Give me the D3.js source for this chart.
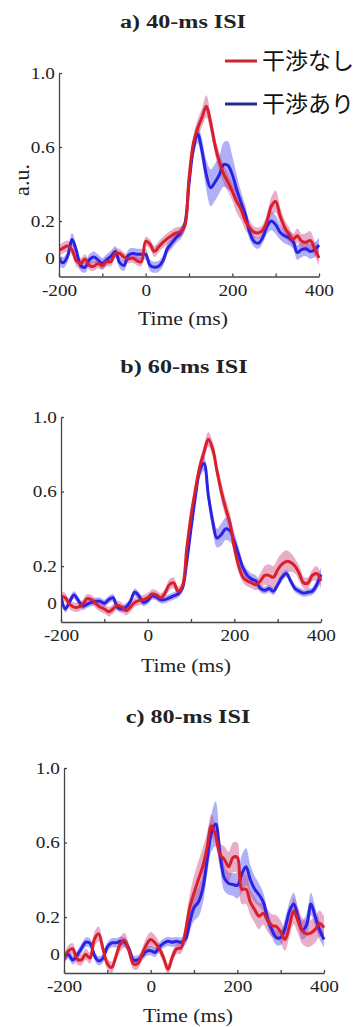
<!DOCTYPE html>
<html>
<head>
<meta charset="utf-8">
<script src="https://cdn.jsdelivr.net/npm/d3@7"></script>
<style>
  body { margin: 0; background: #fff; }
  svg { display: block; }
  .serif { font-family: "Liberation Serif", Tinos, "Times New Roman", Times, "Nimbus Roman", serif; fill: #222; }
  .cjk { font-family: "Noto Sans CJK JP", "Noto Sans CJK SC", sans-serif; fill: #111; }
</style>
</head>
<body>
<svg id="chart" width="355" height="1027"></svg>
<script>
// time axis (ms), one sample every 10 ms
const times = [-200,-190,-180,-170,-160,-150,-140,-130,-120,-110,
  -100,-90,-80,-70,-60,-50,-40,-30,-20,-10,
  0,10,20,30,40,50,60,70,80,90,
  100,110,120,130,140,150,160,170,180,190,
  200,210,220,230,240,250,260,270,280,290,
  300,310,320,330,340,350,360,370,380,390,400];

const seriesNames = ["干渉なし", "干渉あり"];
const titles = ["a) 40-ms ISI", "b) 60-ms ISI", "c) 80-ms ISI"];
const xTicks = [-200, -100, 0, 100, 200, 300, 400];
const xTickLabels = [-200, 0, 200, 400];
const yTicks = [0, 0.2, 0.6, 1.0];

// a) 40-ms ISI
const redA = [0.04,0.055,0.065,0.045,-0.015,-0.03,-0.005,-0.04,-0.045,-0.03,
  -0.04,-0.02,-0.02,0.025,0.025,0.005,-0.005,0.0,-0.015,-0.02,
  0.09,0.075,0.035,0.06,0.085,0.105,0.122,0.135,0.14,0.17,
  0.43,0.62,0.70,0.76,0.82,0.73,0.61,0.52,0.455,0.41,
  0.36,0.305,0.265,0.2,0.165,0.14,0.135,0.15,0.2,0.28,
  0.305,0.23,0.17,0.13,0.1,0.12,0.09,0.085,0.095,0.05,0.0];
const redAErr = [0.03,0.03,0.03,0.03,0.03,0.03,0.025,0.025,0.025,0.025,
  0.025,0.025,0.025,0.025,0.025,0.025,0.025,0.025,0.025,0.025,
  0.025,0.025,0.03,0.03,0.03,0.03,0.03,0.03,0.03,0.03,
  0.03,0.04,0.05,0.05,0.06,0.05,0.05,0.05,0.05,0.05,
  0.05,0.06,0.06,0.05,0.04,0.03,0.03,0.03,0.04,0.05,
  0.06,0.05,0.04,0.04,0.03,0.04,0.04,0.05,0.05,0.04,0.04];
const blueA = [-0.01,-0.025,0.01,0.1,0.04,-0.04,-0.05,-0.01,0.005,-0.01,
  -0.03,-0.01,0.01,0.035,-0.025,-0.04,0.015,0.025,0.02,0.02,
  0.02,-0.04,-0.05,-0.045,-0.015,0.05,0.08,0.11,0.133,0.18,
  0.40,0.59,0.67,0.58,0.45,0.38,0.41,0.45,0.505,0.50,
  0.45,0.37,0.30,0.235,0.14,0.09,0.08,0.11,0.17,0.2,
  0.18,0.14,0.12,0.11,0.09,0.03,0.045,0.05,0.035,0.045,0.07];
const blueAErr = [0.03,0.03,0.03,0.035,0.03,0.03,0.03,0.03,0.03,0.03,
  0.03,0.03,0.03,0.03,0.03,0.03,0.03,0.03,0.03,0.03,
  0.03,0.03,0.03,0.03,0.03,0.03,0.03,0.03,0.03,0.03,
  0.04,0.05,0.05,0.06,0.08,0.1,0.1,0.1,0.12,0.13,
  0.1,0.08,0.06,0.05,0.04,0.03,0.03,0.03,0.04,0.05,
  0.05,0.04,0.04,0.04,0.04,0.04,0.04,0.04,0.04,0.04,0.04];

// b) 60-ms ISI
const redB = [0.04,0.03,-0.005,-0.02,-0.02,-0.005,0.025,0.02,0.0,-0.02,
  -0.03,-0.045,-0.03,-0.01,-0.02,-0.04,-0.02,0.005,0.015,0.02,
  0.03,0.05,0.045,0.03,0.055,0.1,0.11,0.065,0.09,0.29,
  0.47,0.61,0.73,0.81,0.88,0.83,0.71,0.6,0.51,0.43,
  0.3,0.2,0.14,0.12,0.11,0.1,0.12,0.15,0.15,0.14,
  0.18,0.21,0.225,0.22,0.2,0.16,0.11,0.11,0.15,0.16,0.12];
const redBErr = [0.025,0.025,0.025,0.025,0.025,0.025,0.025,0.025,0.025,0.025,
  0.025,0.025,0.025,0.025,0.025,0.025,0.025,0.025,0.025,0.025,
  0.025,0.025,0.025,0.025,0.025,0.03,0.03,0.025,0.025,0.03,
  0.03,0.035,0.04,0.04,0.04,0.04,0.04,0.05,0.05,0.05,
  0.04,0.03,0.03,0.03,0.03,0.03,0.04,0.05,0.06,0.06,
  0.06,0.06,0.06,0.05,0.04,0.04,0.03,0.03,0.03,0.04,0.04];
const blueB = [0.035,-0.03,0.01,0.045,0.015,-0.015,-0.005,0.005,0.01,0.012,
  0.0,0.02,0.03,-0.02,-0.03,-0.02,0.01,0.06,0.04,0.005,
  0.015,0.04,0.035,0.02,0.02,0.03,0.04,0.05,0.08,0.22,
  0.4,0.57,0.71,0.75,0.58,0.44,0.35,0.37,0.4,0.39,
  0.33,0.26,0.19,0.15,0.13,0.12,0.08,0.07,0.08,0.065,
  0.1,0.14,0.16,0.12,0.08,0.065,0.055,0.06,0.065,0.1,0.155];
const blueBErr = [0.02,0.02,0.02,0.02,0.02,0.02,0.02,0.02,0.02,0.02,
  0.02,0.02,0.02,0.02,0.02,0.02,0.02,0.02,0.02,0.02,
  0.02,0.02,0.02,0.02,0.02,0.02,0.02,0.02,0.02,0.025,
  0.03,0.03,0.04,0.04,0.04,0.05,0.05,0.06,0.06,0.06,
  0.05,0.04,0.03,0.03,0.03,0.03,0.02,0.02,0.02,0.02,
  0.02,0.02,0.02,0.02,0.02,0.02,0.02,0.02,0.02,0.03,0.04];

// c) 80-ms ISI
const redC = [-0.027,0.018,0.03,-0.025,-0.03,0.0,-0.02,0.08,0.11,0.03,
  -0.05,-0.07,-0.01,0.055,0.075,0.02,-0.05,-0.05,0.0,0.05,
  0.08,0.062,0.03,-0.02,-0.08,-0.015,0.03,0.035,0.12,0.25,
  0.33,0.4,0.47,0.57,0.69,0.64,0.535,0.51,0.47,0.52,
  0.52,0.35,0.35,0.28,0.24,0.205,0.22,0.18,0.155,0.15,
  0.12,0.08,0.15,0.232,0.18,0.125,0.11,0.115,0.134,0.165,0.143];
const redCErr = [0.03,0.03,0.03,0.03,0.03,0.03,0.03,0.04,0.04,0.03,
  0.03,0.03,0.03,0.04,0.04,0.03,0.03,0.03,0.03,0.04,
  0.04,0.04,0.03,0.03,0.03,0.03,0.03,0.03,0.05,0.07,
  0.09,0.1,0.1,0.08,0.06,0.05,0.06,0.07,0.08,0.08,
  0.08,0.08,0.08,0.07,0.07,0.07,0.06,0.06,0.06,0.06,
  0.06,0.06,0.06,0.07,0.07,0.07,0.07,0.07,0.07,0.07,0.06];
const blueC = [-0.018,0.0,-0.03,-0.005,0.03,0.065,0.06,-0.005,-0.035,-0.02,
  0.04,0.062,0.062,0.07,0.065,0.03,-0.03,-0.03,-0.01,0.015,
  0.02,0.01,0.04,0.06,0.07,0.065,0.07,0.065,0.08,0.17,
  0.25,0.28,0.35,0.5,0.65,0.7,0.54,0.41,0.38,0.375,
  0.37,0.43,0.47,0.4,0.35,0.32,0.28,0.19,0.13,0.09,
  0.09,0.14,0.23,0.27,0.2,0.13,0.16,0.27,0.2,0.13,0.08];
const blueCErr = [0.025,0.025,0.025,0.025,0.025,0.025,0.025,0.025,0.025,0.025,
  0.025,0.025,0.025,0.025,0.025,0.025,0.025,0.025,0.025,0.025,
  0.025,0.025,0.025,0.025,0.025,0.025,0.025,0.025,0.03,0.05,
  0.07,0.08,0.08,0.08,0.1,0.12,0.08,0.07,0.06,0.06,
  0.07,0.1,0.1,0.08,0.07,0.06,0.05,0.04,0.04,0.04,
  0.04,0.05,0.05,0.06,0.05,0.05,0.06,0.06,0.05,0.05,0.04];

const RED = "#da1f28", BLUE = "#2b22e6";
const RED_BAND = "#cc4a88", BLUE_BAND = "#5050f0";

const svg = d3.select("#chart");

const panels = [
  {title: titles[0], red: redA, redErr: redAErr, blue: blueA, blueErr: blueAErr,
   x0: 59, x1: 319, yBot: 276.5, yTop: 73, titleX: 183, titleY: 28, labelX: 183, labelY: 325, yLabel: true},
  {title: titles[1], red: redB, redErr: redBErr, blue: blueB, blueErr: blueBErr,
   x0: 61, x1: 321, yBot: 622, yTop: 417, titleX: 184, titleY: 373, labelX: 186, labelY: 672},
  {title: titles[2], red: redC, redErr: redCErr, blue: blueC, blueErr: blueCErr,
   x0: 64, x1: 324, yBot: 973, yTop: 768, titleX: 188, titleY: 723, labelX: 188, labelY: 1022}
];

panels.forEach((p, i) => {
  const x = d3.scaleLinear().domain([-200, 400]).range([p.x0, p.x1]);
  const y = d3.scaleLinear().domain([-0.1, 1.0]).range([p.yBot, p.yTop]);
  const g = svg.append("g");

  const clipId = "clip" + i;
  g.append("clipPath").attr("id", clipId)
    .append("rect")
    .attr("x", p.x0).attr("y", p.yTop - 30)
    .attr("width", p.x1 - p.x0 + 2).attr("height", p.yBot - p.yTop + 30);

  const plot = g.append("g").attr("clip-path", `url(#${clipId})`);

  const area = (vals, errs) => d3.area()
    .x((d, j) => x(times[j]))
    .y0((d, j) => y(vals[j] - errs[j]))
    .y1((d, j) => y(vals[j] + errs[j]))
    .curve(d3.curveCatmullRom)(times);
  const line = vals => d3.line()
    .x((d, j) => x(times[j]))
    .y((d, j) => y(vals[j]))
    .curve(d3.curveCatmullRom)(times);

  // shaded error bands
  plot.append("path").attr("d", area(p.blue, p.blueErr))
    .attr("fill", BLUE_BAND).attr("fill-opacity", 0.45);
  plot.append("path").attr("d", area(p.red, p.redErr))
    .attr("fill", RED_BAND).attr("fill-opacity", 0.45);

  // mean lines
  plot.append("path").attr("d", line(p.blue))
    .attr("fill", "none").attr("stroke", BLUE).attr("stroke-width", 3);
  plot.append("path").attr("d", line(p.red))
    .attr("fill", "none").attr("stroke", RED).attr("stroke-width", 3);

  // x axis
  const xAxis = g.append("g")
    .attr("transform", `translate(0,${p.yBot})`)
    .call(d3.axisBottom(x).tickValues(xTicks)
      .tickSizeInner(-3).tickSizeOuter(0).tickPadding(8)
      .tickFormat(d => xTickLabels.includes(d) ? d : ""));
  xAxis.attr("font-family", null).attr("font-size", null);
  xAxis.selectAll("text").attr("class", "serif").style("font-size", "16px")
    .attr("transform", "scale(1.2,1)");

  // y axis
  const yAxis = g.append("g")
    .attr("transform", `translate(${p.x0},0)`)
    .call(d3.axisLeft(y).tickValues(yTicks)
      .tickSizeInner(-3).tickSizeOuter(0).tickPadding(3.5)
      .tickFormat(d => d === 0 ? "0" : d3.format(".1f")(d)));
  yAxis.attr("font-family", null).attr("font-size", null);
  yAxis.selectAll("text").attr("class", "serif").style("font-size", "16px")
    .attr("transform", "scale(1.2,1)");

  g.selectAll(".domain, .tick line").attr("stroke", "#444").attr("stroke-width", 1.3);

  // title
  g.append("text").attr("class", "serif")
    .attr("transform", `translate(${p.titleX},${p.titleY}) scale(1.27,1)`)
    .attr("text-anchor", "middle")
    .style("font-weight", "bold").style("font-size", "19px")
    .text(p.title);

  // x label
  g.append("text").attr("class", "serif")
    .attr("transform", `translate(${p.labelX},${p.labelY}) scale(1.2,1)`)
    .attr("text-anchor", "middle")
    .style("font-size", "18px")
    .text("Time (ms)");

  if (p.yLabel) {
    g.append("text").attr("class", "serif")
      .attr("transform", `translate(29,180) rotate(-90)`)
      .attr("text-anchor", "middle")
      .style("font-size", "22px")
      .text("a.u.");
  }
});

// legend
const legendColors = ["#c9272e", "#28288e"];
const legendY = [61, 104];
const legend = svg.append("g");
seriesNames.forEach((name, i) => {
  legend.append("line")
    .attr("x1", 225).attr("x2", 257)
    .attr("y1", legendY[i]).attr("y2", legendY[i])
    .attr("stroke", legendColors[i]).attr("stroke-width", 3);
  legend.append("text").attr("class", "cjk")
    .attr("x", 262).attr("y", legendY[i])
    .attr("dy", "0.36em")
    .style("font-size", "23px")
    .text(name);
});
</script>
</body>
</html>
